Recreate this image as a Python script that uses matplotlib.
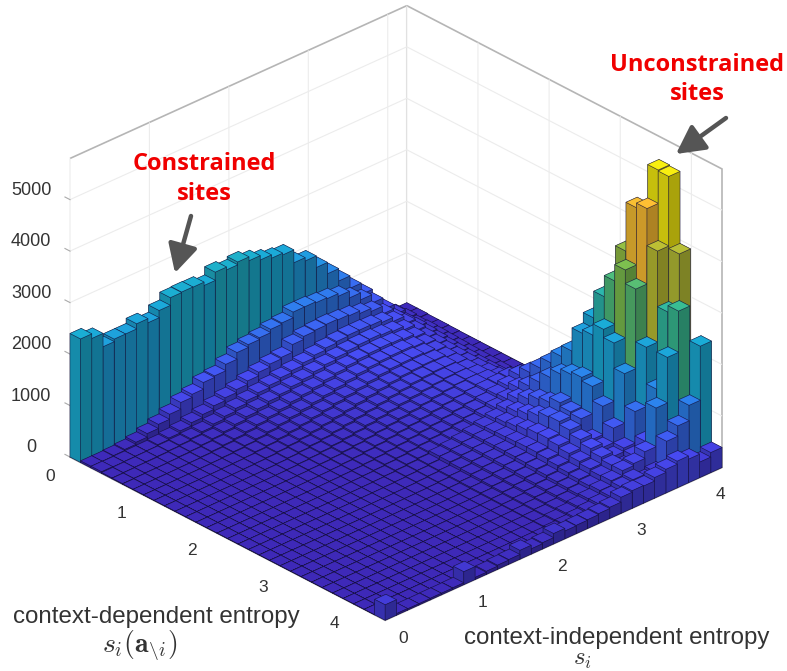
import numpy as np
import matplotlib
matplotlib.use("Agg")
import matplotlib.pyplot as plt
from matplotlib.colors import LinearSegmentedColormap
from matplotlib.patches import FancyArrowPatch
from mpl_toolkits.mplot3d import proj3d

plt.rcParams['font.family'] = ['Liberation Sans', 'DejaVu Sans']
plt.rcParams['mathtext.fontset'] = 'cm'

W, H = 787, 671

# bin layout and axis ticks
bin_width_dep = 4.43 / 30
bin_width_ind = 4.24 / 30
x_ticks = [0, 1, 2, 3, 4]
y_ticks = [0, 1, 2, 3, 4]
z_ticks = [0, 1000, 2000, 3000, 4000, 5000]
z_top = 5800

# counts: one list per context-dependent entropy bin
row_00 = [2400,2310,2050,2100,2100,2200,2120,2260,2410,2420,2415,2350,2510,2455,2510,2435,2350,2285,2250,2000,1935,1710,1490,1250,1010,790,500,250,100,30]
row_01 = [30,30,40,60,100,170,250,350,480,540,670,700,825,955,1010,1045,1110,1136,1247,1247,1227,1208,1156,1026,890,727,500,300,120,30]
row_02 = [30,25,30,35,40,60,90,130,190,250,320,380,440,510,580,640,670,820,880,900,915,900,880,830,770,620,430,250,100,20]
row_03 = [15,20,25,30,35,45,60,85,120,170,220,275,330,385,430,480,520,570,620,660,690,710,710,700,660,580,430,260,110,20]
row_04 = [10,15,20,20,25,35,45,65,90,125,170,220,270,320,360,410,450,500,540,580,610,630,640,620,590,520,400,240,100,15]
row_05 = [5,10,15,15,20,25,35,50,70,95,130,170,215,260,310,350,390,440,480,520,550,570,580,570,540,480,370,220,90,10]
row_06 = [5,8,10,12,15,20,25,35,50,70,100,135,175,215,260,300,340,385,430,470,500,520,530,530,500,450,350,200,80,10]
row_07 = [3,5,8,10,12,15,20,25,35,55,75,105,140,175,215,255,295,335,380,420,455,480,490,495,475,430,330,190,70,8]
row_08 = [2,4,6,8,10,12,15,20,28,40,58,80,110,145,180,220,255,295,335,375,410,440,455,465,455,410,320,180,65,8]
row_09 = [2,3,5,6,8,10,12,15,22,30,45,62,88,115,150,185,220,255,295,335,370,405,425,440,435,400,310,170,60,6]
row_10 = [2,3,4,5,6,8,10,12,16,24,35,50,70,95,125,155,190,225,260,300,335,370,395,415,420,390,310,170,55,6]
row_11 = [1,2,3,4,5,6,8,10,13,18,28,40,55,78,100,130,160,195,230,265,300,340,370,395,410,390,320,170,50,5]
row_12 = [1,2,3,3,4,5,6,8,10,15,22,30,45,62,85,110,140,170,200,235,275,310,345,380,405,400,345,180,50,5]
row_13 = [1,1,2,3,3,4,5,6,8,12,18,25,35,50,70,92,118,148,180,210,250,290,330,370,410,430,450,200,50,5]
row_14 = [1,1,2,2,3,3,4,5,7,10,14,20,28,40,58,78,100,128,158,190,230,270,315,365,420,490,600,260,60,5]
row_15 = [1,1,1,2,2,3,3,4,6,8,12,16,22,32,48,65,85,110,140,170,210,255,305,365,440,560,760,330,70,5]
row_16 = [1,1,1,1,2,2,3,4,5,7,10,13,18,26,38,52,72,130,165,205,250,300,360,440,550,700,950,450,90,5]
row_17 = [1,1,1,1,1,2,2,3,4,6,8,11,15,22,32,45,62,125,160,200,250,310,390,500,650,880,1160,650,120,10]
row_18 = [0,1,1,1,1,2,2,3,4,5,7,9,13,18,26,38,60,110,150,195,250,320,420,560,750,1080,1390,900,300,20]
row_19 = [0,1,1,1,1,1,2,2,3,4,6,8,11,15,22,32,55,100,140,190,250,330,460,640,800,1250,1600,1300,800,60]
row_20 = [0,0,1,1,1,1,2,2,3,4,5,7,9,13,18,26,50,90,130,180,245,340,500,720,900,1350,2050,2250,1500,600]
row_21 = [0,0,1,1,1,1,1,2,3,3,4,6,8,11,16,22,45,80,120,170,235,340,510,740,830,1400,2120,2770,2600,1200]
row_22 = [0,0,0,1,1,1,1,2,2,3,4,5,7,9,14,19,40,70,105,155,220,320,480,680,800,1330,2340,3180,3660,2500]
row_23 = [0,0,0,1,1,1,1,1,2,3,3,4,6,8,12,17,35,60,95,140,200,290,430,600,500,1050,2180,3500,4610,3800]
row_24 = [0,0,0,0,1,1,1,1,2,2,3,4,5,7,11,15,30,55,85,125,180,260,380,530,450,730,1690,3235,4700,5350]
row_25 = [0,0,0,0,1,1,1,1,2,2,3,4,5,7,10,14,28,50,75,115,165,235,340,470,380,450,1060,2210,3980,5330]
row_26 = [0,0,0,0,1,1,1,1,2,2,3,4,5,7,10,14,26,45,70,105,150,215,310,420,300,400,585,1500,2900,3930]
row_27 = [0,0,0,0,0,1,1,1,2,3,4,5,6,8,12,16,30,55,85,120,165,230,320,420,460,590,1340,2225,3025,2000]
row_28 = [0,0,0,0,0,1,1,2,3,4,5,6,8,11,15,22,40,60,90,125,170,220,300,350,250,300,800,1000,1300,2350]
row_29 = [300,30,25,25,30,30,35,250,40,60,80,90,170,100,120,200,150,160,170,190,215,310,340,330,400,460,520,458,300,390]

heights = np.array([row_00,row_01,row_02,row_03,row_04,row_05,row_06,row_07,row_08,row_09,
                    row_10,row_11,row_12,row_13,row_14,row_15,row_16,row_17,row_18,row_19,
                    row_20,row_21,row_22,row_23,row_24,row_25,row_26,row_27,row_28,row_29], dtype=float)

parula = LinearSegmentedColormap.from_list('parula_like', [
    (0.00, (0.2422, 0.1600, 0.7200)), (0.10, (0.2810, 0.3000, 0.9600)),
    (0.25, (0.1700, 0.5200, 0.9300)), (0.44, (0.1000, 0.6800, 0.8400)),
    (0.56, (0.2200, 0.7400, 0.5800)), (0.65, (0.5000, 0.7500, 0.3000)),
    (0.74, (0.7500, 0.7500, 0.2000)), (0.87, (1.0000, 0.7500, 0.2000)),
    (1.00, (0.9700, 0.9500, 0.0500))])

fig = plt.figure(figsize=(W / 100, H / 100), dpi=100, facecolor='white')
ax = fig.add_axes([0, 0, 1, 1], projection='3d', proj_type='ortho', computed_zorder=False)
ax.view_init(elev=29, azim=-43.1)
ax.set_box_aspect((1, 1, 0.74))

n_x, n_y = heights.shape
x_max = n_x * bin_width_dep
y_max = n_y * bin_width_ind
ax.set_xlim(0, x_max)
ax.set_ylim(0, y_max)
ax.set_zlim(0, z_top)


# place the box so that its corners fall where the reference has them
def project(x, y, z):
    u, v, _ = proj3d.proj_transform(x, y, z, ax.get_proj())
    return u, v


u_l, v_l = project(0, 0, 0)
u_r, v_r = project(x_max, y_max, 0)
lim2d = ax.viewLim
size_px = (722 - 70) / (u_r - u_l) * lim2d.width
left_px = 70 - (u_l - lim2d.x0) / lim2d.width * size_px
bottom_px = (H - 457) - (v_l - lim2d.y0) / lim2d.height * size_px
ax.set_position([left_px / W, bottom_px / H, size_px / W, size_px / H])

# back to front
order = 0
for i in range(n_x):
    for j in range(n_y - 1, -1, -1):
        h = heights[i, j]
        top = np.array(parula(h / 5400.0)[:3])
        left = top * 0.80
        right = top * 0.68
        faces = [top * 0.5, top, left, top * 0.5, top * 0.5, right]
        ax.bar3d(i * bin_width_dep, j * bin_width_ind, 0, bin_width_dep, bin_width_ind, max(h, 0.5),
                 color=faces, shade=False, edgecolor=(0.08, 0.06, 0.22, 0.6), linewidth=0.45,
                 zorder=order + 10)
        order += 1

ax.set_xticks(x_ticks)
ax.set_yticks(y_ticks)
ax.set_zticks(z_ticks)
ax.set_xticklabels([str(t) for t in x_ticks], fontsize=12.5, color='#333333', va='bottom')
ax.set_yticklabels([str(t) for t in y_ticks], fontsize=12.5, color='#333333', va='bottom')
ax.set_zticklabels([str(t) for t in z_ticks], fontsize=13, color='#333333', va='bottom')
ax.tick_params(axis='x', pad=8, color='#aaaaaa')
ax.tick_params(axis='y', pad=7, color='#aaaaaa')
ax.tick_params(axis='z', pad=8, color='#aaaaaa')

for axis in (ax.xaxis, ax.yaxis, ax.zaxis):
    axis.set_pane_color((1, 1, 1, 1))
    axis.pane.set_edgecolor('#b5b5b5')
    axis.pane.set_linewidth(1.2)
    axis.line.set_color('#b5b5b5')
    axis._axinfo['grid'].update(color='#ececec', linewidth=0.8)
    axis._axinfo['tick'].update(color='#aaaaaa', inward_factor=0.0, outward_factor=0.2)
ax.zaxis._axinfo['juggled'] = (1, 0, 2)


def fx(px):
    return px / W


def fy(py):
    return 1 - py / H


label_font = ['Liberation Sans', 'DejaVu Sans']
fig.text(fx(156), fy(617), 'context-dependent entropy', ha='center', va='center', fontsize=17.4, color='#333333', family=label_font)
fig.text(fx(140), fy(645), r'$s_i(\mathbf{a}_{\backslash i})$', ha='center', va='center', fontsize=20, color='#333333')
fig.text(fx(617), fy(638), 'context-independent entropy', ha='center', va='center', fontsize=17.4, color='#333333', family=label_font)
fig.text(fx(582), fy(659), r'$s_i$', ha='center', va='center', fontsize=18, color='#333333')

title_font = ['Open Sans', 'DejaVu Sans']
fig.text(fx(204), fy(164), 'Constrained', ha='center', va='center', fontsize=17, fontweight='bold', color='#f00000', family=title_font)
fig.text(fx(204), fy(194), 'sites', ha='center', va='center', fontsize=17, fontweight='bold', color='#f00000', family=title_font)
fig.text(fx(697), fy(65), 'Unconstrained', ha='center', va='center', fontsize=17, fontweight='bold', color='#f00000', family=title_font)
fig.text(fx(697), fy(94), 'sites', ha='center', va='center', fontsize=17, fontweight='bold', color='#f00000', family=title_font)

arrow = dict(arrowstyle='-|>,head_width=0.5,head_length=0.95', color='#555555', lw=3.2, shrinkA=0, shrinkB=0)
fig.add_artist(FancyArrowPatch((fx(191), fy(216)), (fx(175), fy(273)), transform=fig.transFigure, mutation_scale=18, zorder=100000, **arrow))
fig.add_artist(FancyArrowPatch((fx(726), fy(118)), (fx(676), fy(154)), transform=fig.transFigure, mutation_scale=18, zorder=100000, **arrow))

fig.savefig('out.png', dpi=100)
